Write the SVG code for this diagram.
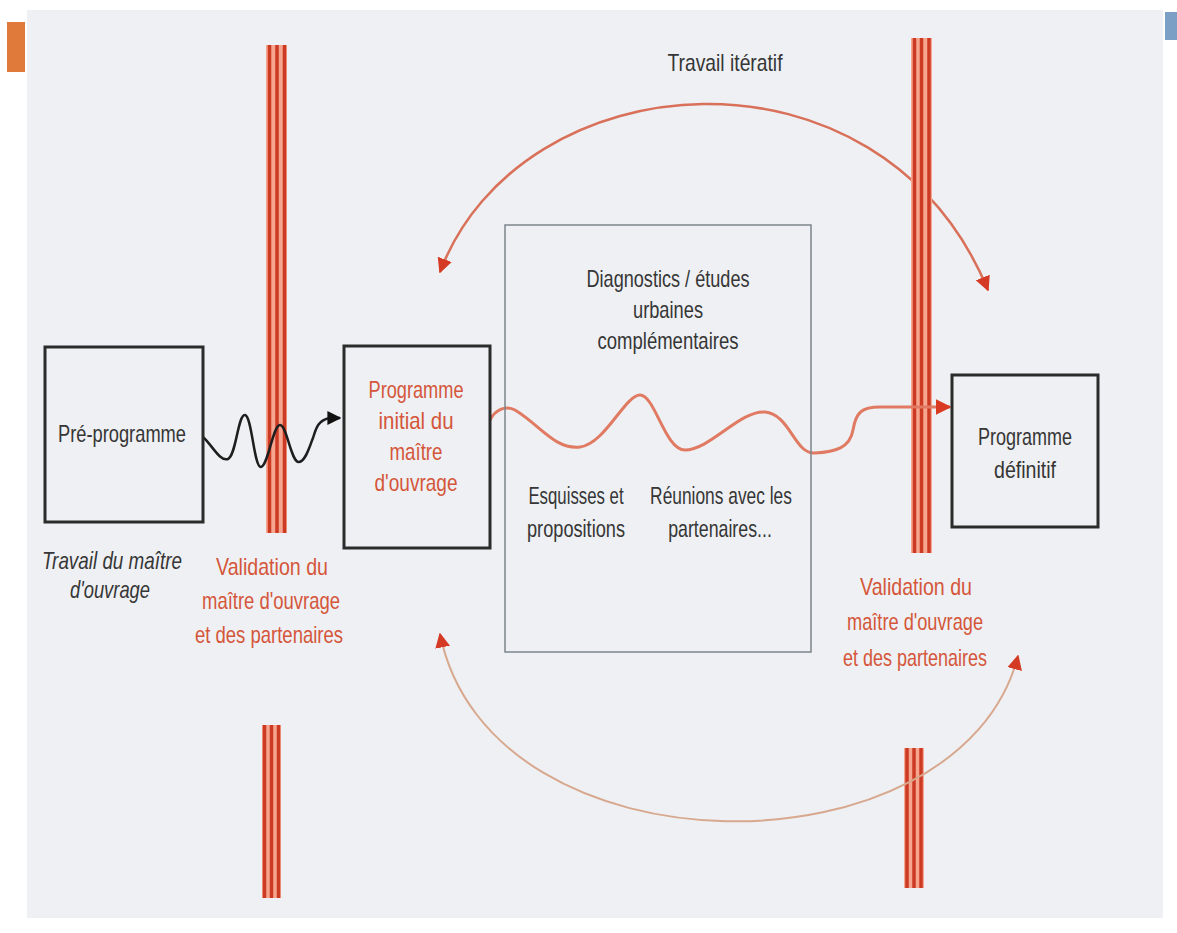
<svg xmlns="http://www.w3.org/2000/svg" width="1177" height="933" viewBox="0 0 1177 933">
<style>
  .t { font-family: "Liberation Sans", "DejaVu Sans", sans-serif; font-size: 24px; }
  .dark { fill: #363636; }
  .red { fill: #d5563a; }
  .box { fill: none; stroke: #2b2b2b; stroke-width: 3; }
  .thin { fill: none; stroke: #7d858c; stroke-width: 1.5; }
  .stripe { stroke: #cc3a24; stroke-width: 3.5; }
  .pink { fill: #f6a58e; }
</style>
<defs>
  <marker id="ahBlack" viewBox="0 0 10 10" refX="9" refY="5" markerWidth="14" markerHeight="14" markerUnits="userSpaceOnUse" orient="auto">
    <path d="M0,0 L10,5 L0,10 Z" fill="#111"/>
  </marker>
  <marker id="ahRed" viewBox="0 0 10 10" refX="9" refY="5" markerWidth="16" markerHeight="16" markerUnits="userSpaceOnUse" orient="auto">
    <path d="M0,0 L10,5 L0,10 Z" fill="#d93a22"/>
  </marker>
  <marker id="ahRedS" viewBox="0 0 10 10" refX="9" refY="5" markerWidth="15" markerHeight="15" markerUnits="userSpaceOnUse" orient="auto-start-reverse">
    <path d="M0,0 L10,5 L0,10 Z" fill="#d53a24"/>
  </marker>
</defs>

<rect x="0" y="0" width="1177" height="933" fill="#ffffff"/>
<rect x="27" y="10" width="1136" height="908" fill="#eef0f3"/>
<rect x="7" y="22" width="18" height="50" fill="#e07a3a"/>
<rect x="1165" y="12" width="12" height="28" fill="#7c9fc6"/>

<g id="connectors-back">
  <path d="M440,272 C520,60 880,30 988,290" fill="none" stroke="#d9705a" stroke-width="2.5" marker-start="url(#ahRedS)" marker-end="url(#ahRedS)"/>
</g>

<g id="bar-left-top">
  <rect class="pink" x="266" y="45" width="21" height="488"/>
  <line class="stripe" x1="269.5" y1="45" x2="269.5" y2="533"/>
  <line class="stripe" x1="277" y1="45" x2="277" y2="533"/>
  <line class="stripe" x1="284.5" y1="45" x2="284.5" y2="533"/>
</g>
<g id="bar-left-bottom">
  <rect class="pink" x="262" y="725" width="19" height="173"/>
  <line class="stripe" x1="264.5" y1="725" x2="264.5" y2="898"/>
  <line class="stripe" x1="271.5" y1="725" x2="271.5" y2="898"/>
  <line class="stripe" x1="278.5" y1="725" x2="278.5" y2="898"/>
</g>
<g id="bar-right-top">
  <rect class="pink" x="911" y="38" width="21" height="515"/>
  <line class="stripe" x1="914.5" y1="38" x2="914.5" y2="553"/>
  <line class="stripe" x1="921.5" y1="38" x2="921.5" y2="553"/>
  <line class="stripe" x1="929" y1="38" x2="929" y2="553"/>
</g>
<g id="bar-right-bottom">
  <rect class="pink" x="904" y="748" width="20" height="140"/>
  <line class="stripe" x1="907" y1="748" x2="907" y2="888"/>
  <line class="stripe" x1="914" y1="748" x2="914" y2="888"/>
  <line class="stripe" x1="921" y1="748" x2="921" y2="888"/>
</g>

<g id="connectors">
  <path d="M440,634 C490,880 960,880 1018,656" fill="none" stroke="#d8a88e" stroke-width="2" marker-start="url(#ahRedS)" marker-end="url(#ahRedS)"/>
  <path d="M203,437 C212,445 220,462 228,459 C236,456 238,414 245,415 C252,416 254,468 261,467 C268,466 273,425 280,425 C287,425 291,463 299,462 C306,461 310,445 313,438 C316,428 318,420 330,418 L340,418" fill="none" stroke="#1e1e1e" stroke-width="2.5" marker-end="url(#ahBlack)"/>
  <path d="M490,420 C495,410 505,405 515,410 C540,425 555,450 580,447 C605,444 625,395 640,395 C655,395 665,450 685,450 C710,450 740,410 765,412 C790,414 795,455 815,453 C835,452 850,448 853,430 C856,412 862,407 880,407 L950,407" fill="none" stroke="#e07a62" stroke-width="3" marker-end="url(#ahRed)"/>
</g>

<g id="node-pre-programme">
  <rect class="box" x="45" y="347" width="158" height="175"/>
  <text class="t dark" x="122" y="442" text-anchor="middle" textLength="128" lengthAdjust="spacingAndGlyphs">Pré-programme</text>
  <text class="t dark" x="112" y="569" text-anchor="middle" font-style="italic" textLength="140" lengthAdjust="spacingAndGlyphs">Travail du maître</text>
  <text class="t dark" x="110" y="598" text-anchor="middle" font-style="italic" textLength="80" lengthAdjust="spacingAndGlyphs">d'ouvrage</text>
</g>

<g id="label-validation-left">
  <text class="t red" x="272" y="575" text-anchor="middle" textLength="112" lengthAdjust="spacingAndGlyphs">Validation du</text>
  <text class="t red" x="271" y="609" text-anchor="middle" textLength="138" lengthAdjust="spacingAndGlyphs">maître d'ouvrage</text>
  <text class="t red" x="269" y="643" text-anchor="middle" textLength="148" lengthAdjust="spacingAndGlyphs">et des partenaires</text>
</g>

<g id="node-programme-initial">
  <rect class="box" x="344" y="346" width="146" height="202"/>
  <text class="t red" x="416" y="398" text-anchor="middle" textLength="95" lengthAdjust="spacingAndGlyphs">Programme</text>
  <text class="t red" x="416" y="429" text-anchor="middle" textLength="75" lengthAdjust="spacingAndGlyphs">initial du</text>
  <text class="t red" x="416" y="460" text-anchor="middle" textLength="53" lengthAdjust="spacingAndGlyphs">maître</text>
  <text class="t red" x="416" y="491" text-anchor="middle" textLength="83" lengthAdjust="spacingAndGlyphs">d'ouvrage</text>
</g>

<g id="node-etudes">
  <rect class="thin" x="505" y="225" width="306" height="427"/>
  <text class="t dark" x="668" y="287" text-anchor="middle" textLength="163" lengthAdjust="spacingAndGlyphs">Diagnostics / études</text>
  <text class="t dark" x="668" y="318" text-anchor="middle" textLength="70" lengthAdjust="spacingAndGlyphs">urbaines</text>
  <text class="t dark" x="668" y="349" text-anchor="middle" textLength="141" lengthAdjust="spacingAndGlyphs">complémentaires</text>
  <text class="t dark" transform="translate(576,504) scale(0.7,1)" x="0" y="0" text-anchor="middle" textLength="136" lengthAdjust="spacingAndGlyphs">Esquisses et</text>
  <text class="t dark" transform="translate(576,537) scale(0.7,1)" x="0" y="0" text-anchor="middle" textLength="140" lengthAdjust="spacingAndGlyphs">propositions</text>
  <text class="t dark" transform="translate(721,504) scale(0.72,1)" x="0" y="0" text-anchor="middle" textLength="197" lengthAdjust="spacingAndGlyphs">Réunions avec les</text>
  <text class="t dark" transform="translate(720,537) scale(0.72,1)" x="0" y="0" text-anchor="middle" textLength="144" lengthAdjust="spacingAndGlyphs">partenaires...</text>
</g>

<g id="label-travail-iteratif">
  <text class="t dark" x="725" y="71" text-anchor="middle" textLength="115" lengthAdjust="spacingAndGlyphs">Travail itératif</text>
</g>

<g id="node-programme-definitif">
  <rect class="box" x="952" y="375" width="146" height="152"/>
  <text class="t dark" x="1025" y="445" text-anchor="middle" textLength="94" lengthAdjust="spacingAndGlyphs">Programme</text>
  <text class="t dark" x="1025" y="478" text-anchor="middle" textLength="62" lengthAdjust="spacingAndGlyphs">définitif</text>
</g>

<g id="label-validation-right">
  <text class="t red" x="916" y="595" text-anchor="middle" textLength="112" lengthAdjust="spacingAndGlyphs">Validation du</text>
  <text class="t red" x="915" y="630" text-anchor="middle" textLength="136" lengthAdjust="spacingAndGlyphs">maître d'ouvrage</text>
  <text class="t red" x="915" y="666" text-anchor="middle" textLength="144" lengthAdjust="spacingAndGlyphs">et des partenaires</text>
</g>
</svg>
